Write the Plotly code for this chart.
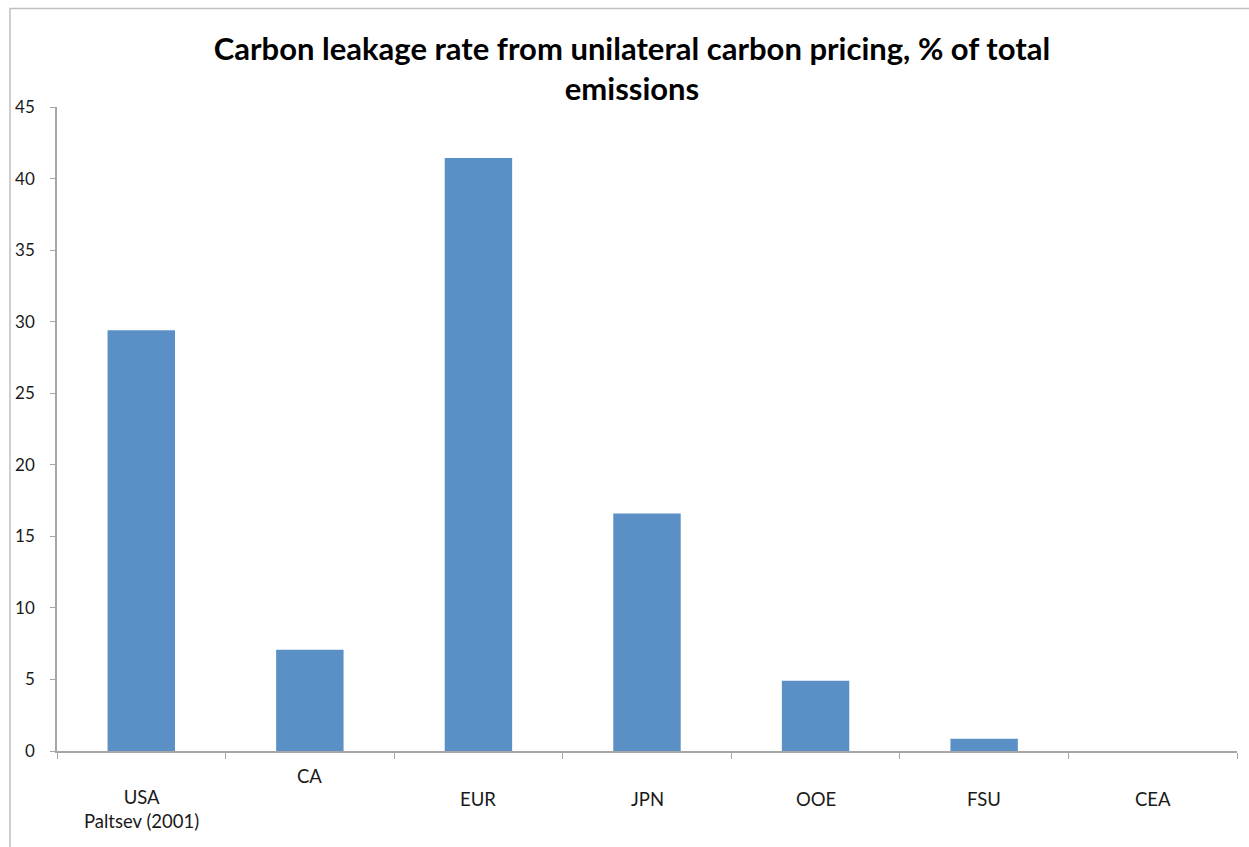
import plotly.graph_objects as go

categories = ["USA", "CA", "EUR", "JPN", "OOE", "FSU", "CEA"]
values = [29.4, 7.07, 41.43, 16.6, 4.91, 0.86, 0.0]
study_label = "Paltsev (2001)"
title_text = "Carbon leakage rate from unilateral carbon pricing, % of total<br>emissions"
y_ticks = [0, 5, 10, 15, 20, 25, 30, 35, 40, 45]

W, H = 1249, 847
L, R, T, B = 57, 1237, 106.7, 751.3
pw, ph = R - L, B - T

def py(ypix):
    return (B - ypix) / ph

def px(xpix):
    return (xpix - L) / pw

FONT = "Lato"
AXIS = "#a6a6a6"
TXT = "#1a1a1a"

fig = go.Figure(go.Bar(
    x=categories, y=values,
    marker=dict(color="#5b90c6", line=dict(width=0)),
    width=0.4,
))

annotations = []
for i, c in enumerate(categories):
    if i == 0:
        text, ypos = c + "<br>" + study_label, py(809)
    elif c == "CA":
        text, ypos = c, py(776.7)
    else:
        text, ypos = c, py(799.5)
    annotations.append(dict(x=c, xref="x", y=ypos, yref="paper", text=text,
                            showarrow=False, yanchor="middle", xanchor="center",
                            font=dict(family=FONT, size=18.5, color=TXT)))

fig.update_layout(
    width=W, height=H,
    margin=dict(l=L, r=W - R, t=T, b=H - B, pad=0),
    paper_bgcolor="white", plot_bgcolor="white",
    showlegend=False,
    title=dict(text="<b>" + title_text + "</b>", x=632 / W, xref="container",
               xanchor="center", y=1 - 60 / H, yref="container", yanchor="top",
               font=dict(family=FONT, size=31, color="black")),
    xaxis=dict(type="category", categoryorder="array", categoryarray=categories,
               range=[-0.5, len(categories) - 0.5],
               tickson="boundaries", ticks="outside", ticklen=6, tickcolor=AXIS,
               showticklabels=False, showline=True, linecolor=AXIS, linewidth=1.5,
               showgrid=False, zeroline=False),
    yaxis=dict(range=[0, 45], tickvals=y_ticks, ticks="outside", ticklen=5,
               tickcolor=AXIS, showline=True, linecolor=AXIS, linewidth=1.5,
               showgrid=False, zeroline=False, ticklabelstandoff=12,
               tickfont=dict(family=FONT, size=17, color=TXT)),
    annotations=annotations,
    shapes=[dict(type="rect", xref="paper", yref="paper",
                 x0=px(10), x1=px(1262), y0=py(870), y1=py(8),
                 line=dict(color="#bfbfbf", width=1.5), layer="below")],
)

fig.write_html("out.html")
